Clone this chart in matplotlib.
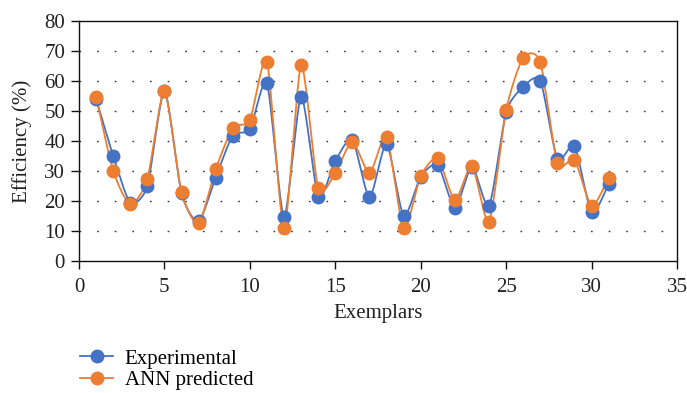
import numpy as np
import matplotlib
matplotlib.use("Agg")
import matplotlib.pyplot as plt
from matplotlib.lines import Line2D

plt.rcParams['font.family'] = ['Liberation Serif', 'DejaVu Serif']

exemplars = list(range(1, 32))
experimental = [54.0, 35.0, 19.5, 25.0, 56.6, 22.6, 13.2, 27.8, 41.8, 43.9, 59.2, 14.8,
                54.8, 21.4, 33.3, 40.5, 21.2, 39.0, 15.1, 28.1, 32.0, 17.8, 31.4, 18.4,
                49.6, 58.0, 60.1, 34.0, 38.4, 16.2, 25.7]
ann_predicted = [54.8, 30.1, 18.9, 27.3, 56.7, 22.9, 12.6, 30.6, 44.3, 47.0, 66.4, 10.9,
                 65.3, 24.2, 29.4, 39.8, 29.2, 41.4, 10.9, 28.3, 34.2, 20.3, 31.7, 13.1,
                 50.3, 67.8, 66.2, 32.6, 33.7, 18.4, 27.8]
series_names = ["Experimental", "ANN predicted"]
colors = ["#4472C4", "#ED7D31"]


def smooth(x, y, n=20, tension=0.35):
    """Cardinal-spline curve through the data points (Excel 'smoothed line')."""
    x = np.asarray(x, float)
    y = np.asarray(y, float)
    px = np.concatenate([[x[0]], x, [x[-1]]])
    py = np.concatenate([[y[0]], y, [y[-1]]])
    xs, ys = [], []
    t = np.linspace(0, 1, n, endpoint=False)
    for i in range(1, len(px) - 2):
        p0x, p1x, p2x, p3x = px[i - 1], px[i], px[i + 1], px[i + 2]
        p0y, p1y, p2y, p3y = py[i - 1], py[i], py[i + 1], py[i + 2]
        m1x, m1y = tension * (p2x - p0x), tension * (p2y - p0y)
        m2x, m2y = tension * (p3x - p1x), tension * (p3y - p1y)
        h00 = 2 * t**3 - 3 * t**2 + 1
        h10 = t**3 - 2 * t**2 + t
        h01 = -2 * t**3 + 3 * t**2
        h11 = t**3 - t**2
        xs.append(h00 * p1x + h10 * m1x + h01 * p2x + h11 * m2x)
        ys.append(h00 * p1y + h10 * m1y + h01 * p2y + h11 * m2y)
    xs.append([x[-1]])
    ys.append([y[-1]])
    return np.concatenate(xs), np.concatenate(ys)


W, H = 687, 393
FS = 15
fig = plt.figure(figsize=(W / 100, H / 100), dpi=100)
ax = fig.add_axes([79 / W, 1 - 261 / H, (677 - 79) / W, (261 - 21) / H])

for vals, col in zip([experimental, ann_predicted], colors):
    sx, sy = smooth(exemplars, vals)
    ax.plot(sx, sy, color=col, lw=1.3, zorder=3)
    ax.plot(exemplars, vals, 'o', color=col, ms=9, zorder=4)

ax.set_xlim(0, 35)
ax.set_ylim(0, 80)
ax.set_xticks(range(0, 36, 5))
ax.set_yticks(range(0, 81, 10))
for v in range(10, 80, 10):
    ax.axhline(v, color='#333333', lw=1.0, ls=(0, (1.2, 11.5)), zorder=1)
for s in ax.spines.values():
    s.set_color('#111111')
    s.set_linewidth(1.0)
ax.tick_params(axis='both', direction='out', length=6, width=1.0, color='#111111',
               labelsize=FS, labelcolor='#222222')
ax.tick_params(axis='x', pad=6)
ax.tick_params(axis='y', pad=4)
ax.set_xlabel("Exemplars", fontsize=FS, color='#222222', labelpad=5)
ax.set_ylabel("Efficiency (%)", fontsize=FS, color='#222222', labelpad=9)

handles = [Line2D([0], [0], color=c, lw=1.3, marker='o', ms=9) for c in colors]
fig.legend(handles, series_names, loc='upper left', bbox_to_anchor=(80 / W, 1 - 349 / H),
           frameon=False, fontsize=FS, handlelength=1.6, handletextpad=0.55,
           labelspacing=0.1, borderaxespad=0, borderpad=0)

fig.savefig("out.png", dpi=100)
